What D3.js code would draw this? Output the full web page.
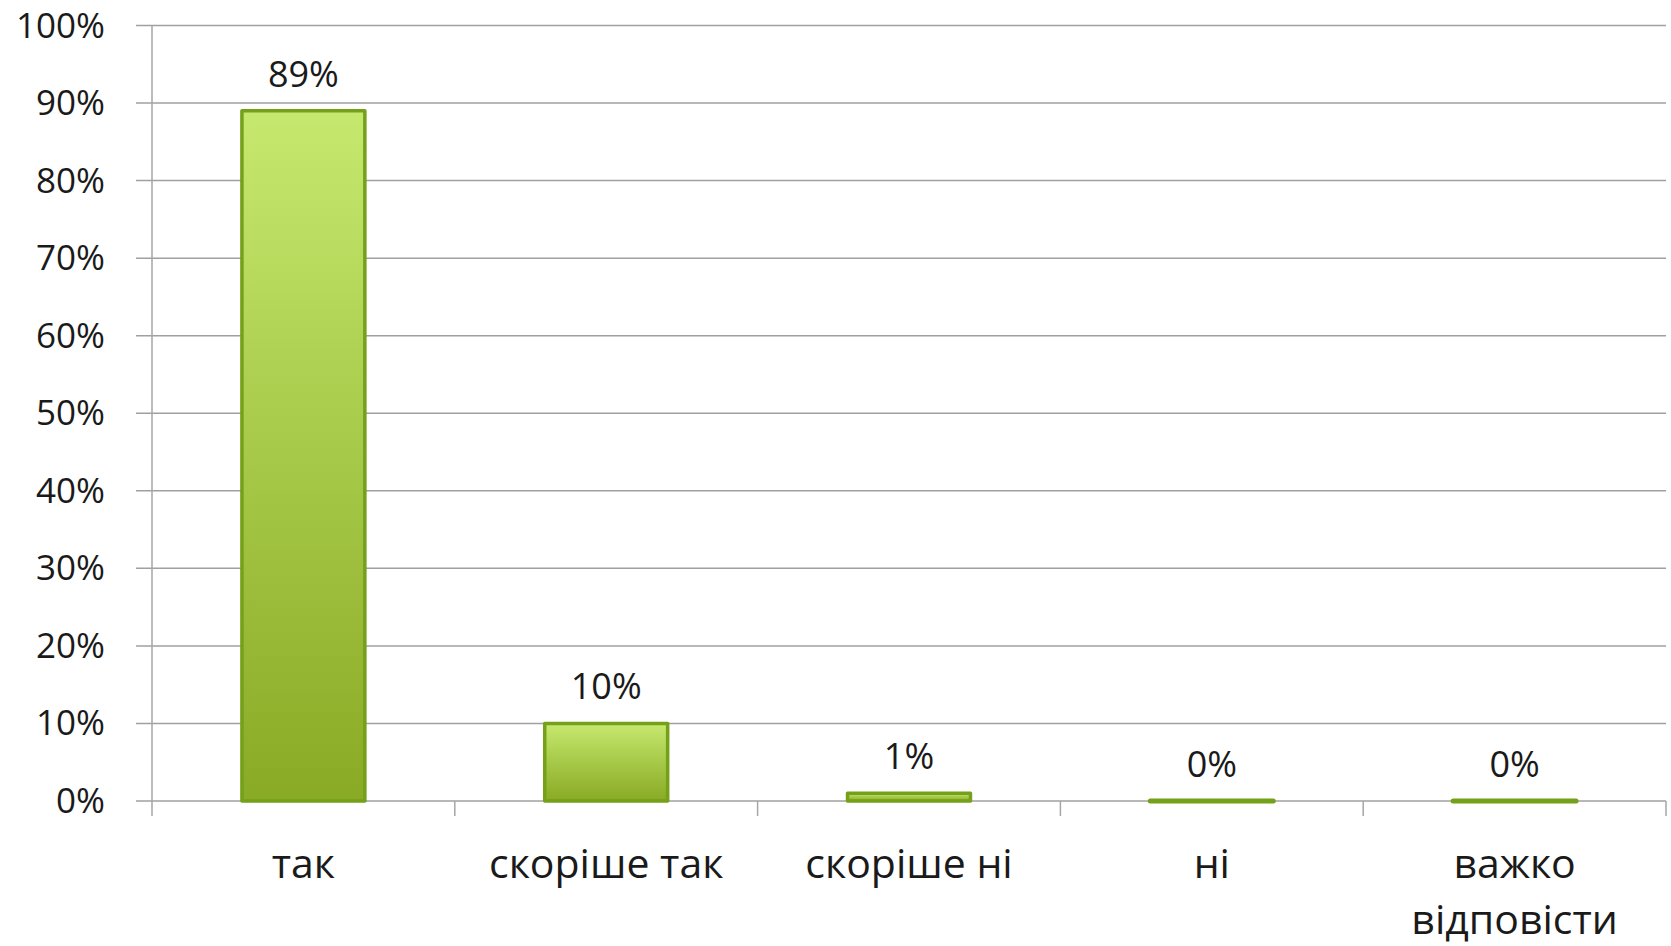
<!DOCTYPE html>
<html>
<head>
<meta charset="utf-8">
<script src="https://cdn.jsdelivr.net/npm/d3@7"></script>
<style>
  html, body { margin: 0; padding: 0; background: #fff; }
  svg { display: block; }
  text { font-family: "Open Sans", "Noto Sans", sans-serif; fill: #1a1a1a; }
</style>
</head>
<body>
<svg id="chart" width="1671" height="946"></svg>
<script>
const categories = ["так", "скоріше так", "скоріше ні", "ні", "важко відповісти"];
const categoryLines = [["так"], ["скоріше так"], ["скоріше ні"], ["ні"], ["важко", "відповісти"]];
const values = [89, 10, 1, 0, 0];
const yTicks = [0, 10, 20, 30, 40, 50, 60, 70, 80, 90, 100];

(function () {
const svg = d3.select("#chart");
const pLeft = 152, pRight = 1666, pTop = 25.5, pBottom = 801;

const x = d3.scaleBand().domain(categories).range([pLeft, pRight]).paddingInner(0.594).paddingOuter(0.297);
const xTicks = d3.scaleBand().domain(categories).range([pLeft, pRight]);
const y = d3.scaleLinear().domain([0, 100]).range([pBottom, pTop]);

const defs = svg.append("defs");
const grad = defs.append("linearGradient").attr("id", "barGrad")
  .attr("x1", 0).attr("y1", 0).attr("x2", 0).attr("y2", 1);
grad.append("stop").attr("offset", "0%").attr("stop-color", "#c6e86e");
grad.append("stop").attr("offset", "100%").attr("stop-color", "#88aa24");

// gridlines
svg.append("g").selectAll("line").data(yTicks).join("line")
  .attr("x1", pLeft - 16).attr("x2", pRight)
  .attr("y1", d => y(d)).attr("y2", d => y(d))
  .attr("stroke", "#a0a0a0").attr("stroke-width", 1.5);

// y axis line
svg.append("line").attr("x1", pLeft).attr("x2", pLeft)
  .attr("y1", y(100)).attr("y2", pBottom + 15)
  .attr("stroke", "#a6a6a6").attr("stroke-width", 1.5);

// category ticks
const tickXs = categories.map(c => xTicks(c) + xTicks.bandwidth());
svg.append("g").selectAll("line").data(tickXs).join("line")
  .attr("x1", d => d).attr("x2", d => d)
  .attr("y1", pBottom).attr("y2", pBottom + 15)
  .attr("stroke", "#a6a6a6").attr("stroke-width", 1.5);

// y tick labels
svg.append("g").selectAll("text").data(yTicks).join("text")
  .attr("x", 105).attr("y", d => y(d) + 12)
  .attr("text-anchor", "end").attr("font-size", 35)
  .text(d => d + "%");

// bars
svg.append("g").selectAll("path").data(values).join("path")
  .attr("d", (d, i) => {
    const x0 = x(categories[i]), w = x.bandwidth(), yt = y(d);
    return `M${x0},${pBottom} V${yt} H${x0 + w} V${pBottom} Z`;
  })
  .attr("fill", "url(#barGrad)")
  .attr("stroke", "#74a01a").attr("stroke-width", d => d === 0 ? 5 : 3.5)
  .attr("stroke-linejoin", "round").attr("stroke-linecap", "round");

// data labels
svg.append("g").selectAll("text").data(values).join("text")
  .attr("x", (d, i) => x(categories[i]) + x.bandwidth() / 2)
  .attr("y", d => y(d) - 24)
  .attr("text-anchor", "middle").attr("font-size", 36)
  .text(d => d + "%");

// category labels
const cat = svg.append("g").selectAll("text").data(categoryLines).join("text")
  .attr("x", (d, i) => x(categories[i]) + x.bandwidth() / 2)
  .attr("y", 878)
  .attr("text-anchor", "middle").attr("font-size", 41);
cat.selectAll("tspan").data(d => d).join("tspan")
  .attr("x", function () { return d3.select(this.parentNode).attr("x"); })
  .attr("dy", (d, i) => i === 0 ? 0 : 56)
  .text(d => d);
})();
</script>
</body>
</html>
